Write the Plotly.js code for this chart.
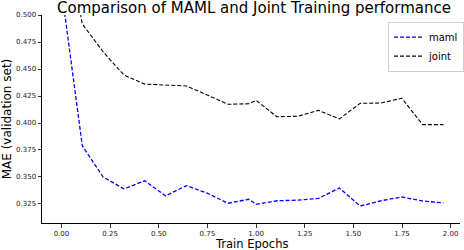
<!DOCTYPE html>
<html>
<head>
<meta charset="utf-8">
<script src="https://cdn.plot.ly/plotly-3.0.1.min.js"></script>
<style>html,body{margin:0;padding:0;background:#fff;}#chart{width:464px;height:250px;}</style>
</head>
<body>
<div id="chart"></div>
<script>
// Training progress (epochs) at which validation MAE was recorded
const epochs = [0.000, 0.107, 0.214, 0.321, 0.428, 0.535, 0.642, 0.749, 0.856, 0.963,
                1.000, 1.107, 1.214, 1.321, 1.428, 1.535, 1.642, 1.749, 1.856, 1.963];
// Validation MAE for each approach
const mamlMAE  = [0.524, 0.379, 0.350, 0.339, 0.3465, 0.3325, 0.342, 0.335, 0.3257, 0.3294,
                  0.3247, 0.328, 0.3285, 0.3302, 0.3398, 0.3231, 0.328, 0.3315, 0.3278, 0.326];
const jointMAE = [0.600, 0.4917, 0.466, 0.4444, 0.436, 0.4355, 0.4343, 0.426, 0.4173, 0.4178,
                  0.4210, 0.4058, 0.4062, 0.4117, 0.4038, 0.4182, 0.4185, 0.4229, 0.3985, 0.3985];
const seriesNames = ["maml", "joint"];
const xTicks = [0.00, 0.25, 0.50, 0.75, 1.00, 1.25, 1.50, 1.75, 2.00];
const yTicks = [0.325, 0.350, 0.375, 0.400, 0.425, 0.450, 0.475, 0.500];

const traces = [
  {x: epochs, y: mamlMAE, name: seriesNames[0], mode: "lines",
   line: {color: "#0000ff", width: 1.3, dash: "4px,2px"}},
  {x: epochs, y: jointMAE, name: seriesNames[1], mode: "lines",
   line: {color: "#000000", width: 1.1, dash: "4px,2px"}}
];

const tickFont = {family: "DejaVu Sans", size: 7, color: "#222"};
const layout = {
  width: 464, height: 250,
  margin: {l: 42, r: 0, t: 15, b: 27, pad: 0},
  paper_bgcolor: "#fff", plot_bgcolor: "#fff",
  font: {family: "DejaVu Sans", color: "#000"},
  title: {text: "Comparison of MAML and Joint Training performance",
          font: {family: "DejaVu Sans", size: 15, color: "#000"},
          x: 254/464, xref: "container", xanchor: "center",
          y: 0.968, yref: "container", yanchor: "middle"},
  showlegend: true,
  legend: {x: 0.828, y: 0.968, xanchor: "left", yanchor: "top",
           bgcolor: "rgba(255,255,255,0.9)", bordercolor: "#d0d0d0", borderwidth: 1,
           font: {family: "DejaVu Sans", size: 10, color: "#000"},
           itemwidth: 30, tracegroupgap: 0},
  xaxis: {range: [-0.1, 2.048], tickvals: xTicks, ticktext: xTicks.map(v => v.toFixed(2)),
          showgrid: false, zeroline: false, showline: true, linecolor: "#000", linewidth: 1,
          ticks: "outside", ticklen: 3.5, tickwidth: 0.8, tickcolor: "#000",
          tickfont: tickFont, automargin: false,
          title: {text: "", font: {family: "DejaVu Sans", size: 11.5, color: "#000"}}},
  yaxis: {range: [0.3074, 0.500], tickvals: yTicks, ticktext: yTicks.map(v => v.toFixed(3)),
          showgrid: false, zeroline: false, showline: true, linecolor: "#000", linewidth: 1,
          ticks: "outside", ticklen: 3.5, tickwidth: 0.8, tickcolor: "#000",
          tickfont: tickFont,
          title: {text: "MAE (validation set)", font: {family: "DejaVu Sans", size: 12, color: "#000"}, standoff: 3}},
  annotations: [
    {text: "Train Epochs", xref: "paper", yref: "paper", x: (254 - 42) / 422, y: -13 / 208,
     xanchor: "center", yanchor: "top", showarrow: false, borderpad: 0,
     font: {family: "DejaVu Sans", size: 11.5, color: "#000"}}
  ]
};

Plotly.newPlot("chart", traces, layout, {displayModeBar: false, staticPlot: true});
</script>
</body>
</html>
